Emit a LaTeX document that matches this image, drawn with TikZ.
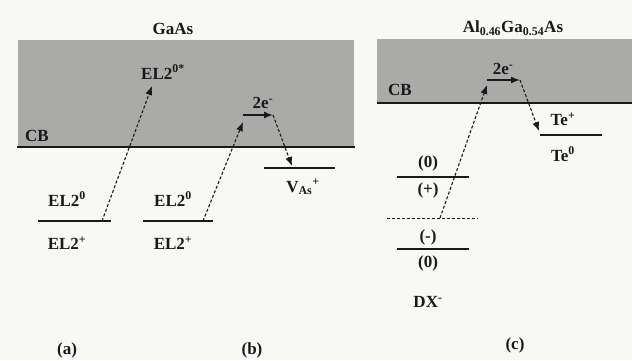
\documentclass[tikz,border=0pt]{standalone}
\usepackage{fontspec}
\setmainfont{Liberation Serif}
\usetikzlibrary{arrows.meta}
\definecolor{bandgray}{RGB}{170,170,168}
\definecolor{paper}{RGB}{248,248,245}
\definecolor{ink}{RGB}{25,25,25}
\tikzset{
  lbl/.style={font=\fontsize{17}{19}\selectfont\bfseries, text=ink, inner sep=0pt},
  lvl/.style={draw=ink, line width=2pt},
  cbline/.style={draw=ink, line width=2pt},
  band/.style={fill=bandgray, draw=none},
  excite/.style={draw=ink, line width=1.1pt, dash pattern=on 3pt off 2pt, -{Latex[length=9pt,width=7pt]}},
  hop/.style={draw=ink, line width=1.4pt, -{Latex[length=9pt,width=7pt]}},
  fermi/.style={draw=ink, line width=0.6pt, dash pattern=on 3pt off 2pt}
}
\begin{document}
\begin{tikzpicture}[x=1pt,y=-1pt]
\useasboundingbox (0,0) rectangle (632,360);
\fill[paper] (0,0) rectangle (632,360);
% bands
\path[band] (18,40) rectangle (354,147);
\path[band] (377,39) rectangle (632,103);
\coordinate (cbaL) at (17,147); \coordinate (cbaR) at (355,147);
\coordinate (cbcL) at (377,103); \coordinate (cbcR) at (632,103);
\draw[cbline] (cbaL) -- (cbaR);
\draw[cbline] (cbcL) -- (cbcR);
% titles
\node[lbl] (tgaas) at (173,29) {GaAs};
\node[lbl] (talgaas) at (513,28) {Al\textsubscript{0.46}Ga\textsubscript{0.54}As};
\node[lbl] (cba) at (37,136) {CB};
\node[lbl] (cbc) at (400,90) {CB};
% panel (a)
\coordinate (la1) at (38,221); \coordinate (la2) at (111,221);
\draw[lvl] (la1) -- (la2);
\coordinate (aS) at (102,221); \coordinate (aE) at (152,86);
\draw[excite] (aS) -- (aE);
\node[lbl] (el2star) at (163,72) {EL2\textsuperscript{0*}};
\node[lbl] (el2a0) at (67,199) {EL2\textsuperscript{0}};
\node[lbl] (el2ap) at (67,243) {EL2\textsuperscript{+}};
\node[lbl] (pa) at (67,350) {(a)};
% panel (b)
\coordinate (lb1) at (143,221); \coordinate (lb2) at (213,221);
\draw[lvl] (lb1) -- (lb2);
\coordinate (bS) at (203,221); \coordinate (bE) at (243,122);
\coordinate (bH1) at (243,115); \coordinate (bH2) at (273,115);
\coordinate (bD) at (292,166);
\draw[excite] (bS) -- (bE);
\draw[hop] (bH1) -- (bH2);
\draw[excite] (bH2) -- (bD);
\coordinate (lv1) at (264,168); \coordinate (lv2) at (335,168);
\draw[lvl] (lv1) -- (lv2);
\node[lbl] (twoeb) at (263,103) {2e\textsuperscript{-}};
\node[lbl] (vas) at (303,187) {V\textsubscript{As}\textsuperscript{+}};
\node[lbl] (el2b0) at (173,199) {EL2\textsuperscript{0}};
\node[lbl] (el2bp) at (173,243) {EL2\textsuperscript{+}};
\node[lbl] (pb) at (252,350) {(b)};
% panel (c)
\coordinate (lc1) at (397,177); \coordinate (lc2) at (469,177);
\draw[lvl] (lc1) -- (lc2);
\coordinate (ld1) at (397,249); \coordinate (ld2) at (469,249);
\draw[lvl] (ld1) -- (ld2);
\coordinate (f1) at (387,218); \coordinate (f2) at (478,218);
\draw[fermi] (f1) -- (f2);
\coordinate (cS) at (440,218); \coordinate (cE) at (487,85);
\coordinate (cH1) at (487,80); \coordinate (cH2) at (520,80);
\coordinate (cD) at (539,131);
\draw[excite] (cS) -- (cE);
\draw[hop] (cH1) -- (cH2);
\draw[excite] (cH2) -- (cD);
\coordinate (te1) at (540,135); \coordinate (te2) at (602,135);
\draw[draw=ink, line width=1.2pt] (te1) -- (te2);
\node[lbl] (twoec) at (503,69) {2e\textsuperscript{-}};
\node[lbl] (tep) at (563,119) {Te\textsuperscript{+}};
\node[lbl] (te0) at (563,154) {Te\textsuperscript{0}};
\node[lbl] (c0a) at (428,163) {(0)};
\node[lbl] (cp) at (428,190) {(+)};
\node[lbl] (cm) at (428,237) {(-)};
\node[lbl] (c0b) at (428,263) {(0)};
\node[lbl] (dx) at (428,302) {DX\textsuperscript{-}};
\node[lbl] (pc) at (515,345) {(c)};
\end{tikzpicture}
\end{document}
